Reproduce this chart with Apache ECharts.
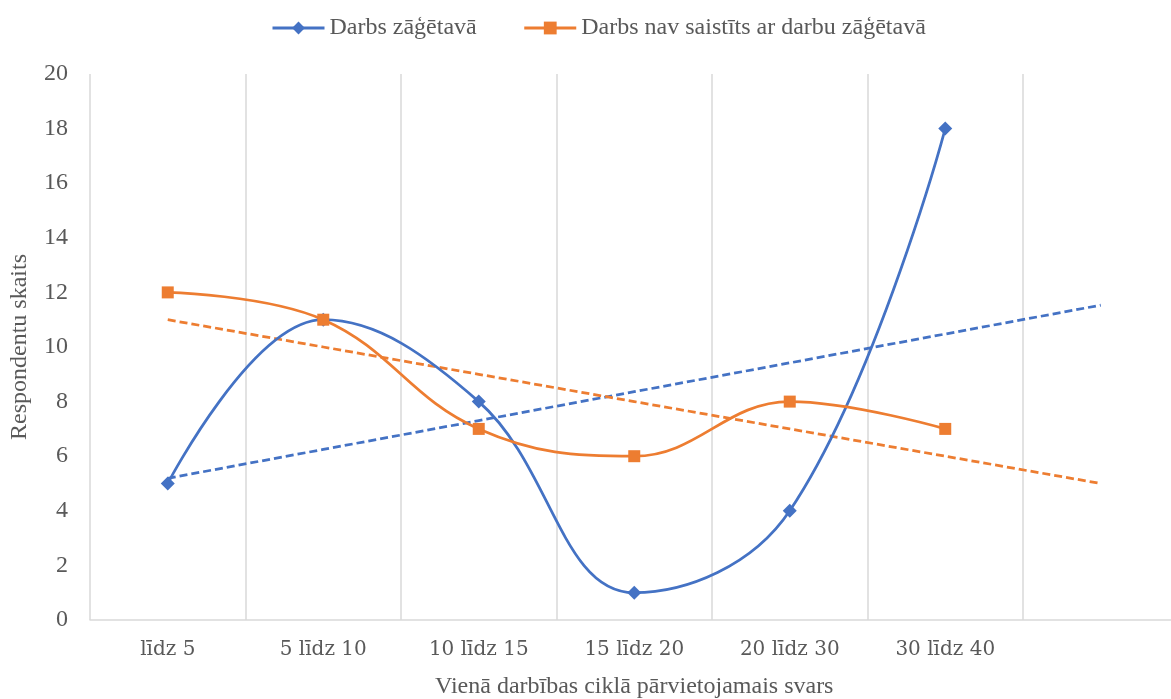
<!DOCTYPE html>
<html>
<head>
<meta charset="utf-8">
<script src="https://cdn.jsdelivr.net/npm/echarts@6/dist/echarts.min.js"></script>
<style>
  html, body { margin: 0; padding: 0; background: #fff; }
  #chart { width: 1171px; height: 699px; }
</style>
</head>
<body>
<div id="chart"></div>
<script>
// Weight ranges moved per work cycle (last slot left empty for the trend forecast)
const categories = ['līdz 5', '5 līdz 10', '10 līdz 15', '15 līdz 20', '20 līdz 30', '30 līdz 40', ''];
const sawmillWork = [5, 11, 8, 1, 4, 18];
const otherWork = [12, 11, 7, 6, 8, 7];
const seriesNames = ['Darbs zāģētavā', 'Darbs nav saistīts ar darbu zāģētavā'];
const yTicks = { min: 0, max: 20, interval: 2 };

// Least-squares linear trend, extended one period forward
function linearTrend(values, length) {
  const n = values.length;
  const xs = values.map((_, i) => i + 1);
  const mx = xs.reduce((a, b) => a + b, 0) / n;
  const my = values.reduce((a, b) => a + b, 0) / n;
  let sxy = 0, sxx = 0;
  xs.forEach((x, i) => { sxy += (x - mx) * (values[i] - my); sxx += (x - mx) * (x - mx); });
  const slope = sxy / sxx;
  const out = [];
  for (let i = 0; i < length; i++) out.push(my + slope * (i + 1 - mx));
  return out;
}

const blue = '#4472C4';
const orange = '#ED7D31';
const textColor = '#595959';
const serif = '"Liberation Serif", "Times New Roman", serif';
const wideSerif = '"DejaVu Serif", serif';

const chart = echarts.init(document.getElementById('chart'));
chart.setOption({
  animation: false,
  textStyle: { fontFamily: serif, color: textColor },
  legend: {
    top: 11,
    left: 266,
    itemWidth: 52,
    itemHeight: 16,
    itemGap: 46,
    data: seriesNames,
    lineStyle: { width: 3 },
    textStyle: { fontFamily: serif, fontSize: 24, color: textColor }
  },
  grid: { left: 90, top: 74, bottom: 79, width: 1088.5, outerBoundsMode: 'none', containLabel: false },
  xAxis: {
    type: 'category',
    data: categories,
    boundaryGap: true,
    axisLine: { lineStyle: { color: '#d9d9d9', width: 1.5 } },
    axisTick: { show: false },
    splitLine: { show: true, lineStyle: { color: '#d9d9d9', width: 1.5 } },
    axisLabel: { fontFamily: wideSerif, fontSize: 20, color: textColor, margin: 20 },
    name: 'Vienā darbības ciklā pārvietojamais svars',
    nameLocation: 'middle',
    nameGap: 55,
    nameTextStyle: { fontFamily: serif, fontSize: 24, color: textColor }
  },
  yAxis: {
    type: 'value',
    min: yTicks.min,
    max: yTicks.max,
    interval: yTicks.interval,
    axisLine: { show: false },
    axisTick: { show: false },
    splitLine: { show: false },
    axisLabel: { fontFamily: serif, fontSize: 24, color: textColor, margin: 22 },
    name: 'Respondentu skaits',
    nameLocation: 'middle',
    nameGap: 58,
    nameTextStyle: { fontFamily: serif, fontSize: 24, color: textColor }
  },
  series: [
    {
      name: seriesNames[0],
      type: 'line',
      data: sawmillWork,
      smooth: 0.4,
      symbol: 'diamond',
      symbolSize: 14,
      z: 4,
      itemStyle: { color: blue },
      lineStyle: { color: blue, width: 2.75 }
    },
    {
      name: seriesNames[1],
      type: 'line',
      data: otherWork,
      smooth: 0.4,
      symbol: 'rect',
      symbolSize: 12,
      z: 4,
      itemStyle: { color: orange },
      lineStyle: { color: orange, width: 2.75 }
    },
    {
      name: 'trend-blue',
      type: 'line',
      data: linearTrend(sawmillWork, categories.length),
      symbol: 'none',
      z: 3,
      lineStyle: { color: blue, width: 2.75, type: [8, 4] },
      silent: true
    },
    {
      name: 'trend-orange',
      type: 'line',
      data: linearTrend(otherWork, categories.length),
      symbol: 'none',
      z: 3,
      lineStyle: { color: orange, width: 2.75, type: [8, 4] },
      silent: true
    }
  ]
});
</script>
</body>
</html>
